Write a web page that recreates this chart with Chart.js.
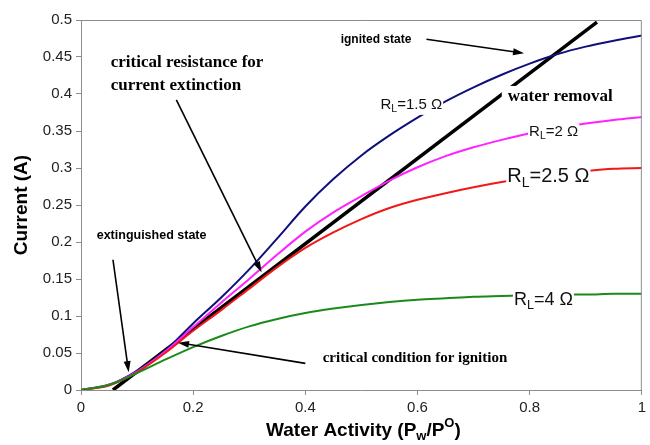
<!DOCTYPE html>
<html>
<head>
<meta charset="utf-8">
<script src="https://cdn.jsdelivr.net/npm/chart.js@4.4.0/dist/chart.umd.min.js"></script>
<style>
  html, body { margin: 0; padding: 0; background: #fff; }
  #wrap { width: 650px; height: 445px; }
</style>
</head>
<body>
<div id="wrap"><canvas id="chart"></canvas></div>
<script>
// water activity (x) and current (A)
const waterActivity = [0, 0.05, 0.1, 0.15, 0.2, 0.25, 0.3, 0.35, 0.4, 0.45, 0.5, 0.55, 0.6, 0.65, 0.7, 0.75, 0.8, 0.85, 0.9, 0.95, 1.0];
const currentR15 = [0, 0.007, 0.026, 0.053, 0.09, 0.125, 0.163, 0.205, 0.248, 0.285, 0.317, 0.344, 0.368, 0.39, 0.409, 0.426, 0.441, 0.454, 0.464, 0.472, 0.479];
const currentR2 = [0, 0.007, 0.025, 0.052, 0.085, 0.118, 0.15, 0.183, 0.214, 0.24, 0.262, 0.283, 0.301, 0.316, 0.328, 0.338, 0.347, 0.354, 0.36, 0.365, 0.369];
const currentR25 = [0, 0.006, 0.024, 0.05, 0.08, 0.108, 0.137, 0.166, 0.192, 0.213, 0.231, 0.246, 0.257, 0.266, 0.274, 0.281, 0.287, 0.292, 0.296, 0.299, 0.3];
const currentR4 = [0, 0.007, 0.023, 0.041, 0.058, 0.073, 0.086, 0.096, 0.104, 0.11, 0.115, 0.119, 0.122, 0.124, 0.126, 0.127, 0.128, 0.129, 0.129, 0.13, 0.13];

// water removal line
const removalX = [0.057, 0.92];
const removalY = [0, 0.497];

const xTicks = [0, 0.2, 0.4, 0.6, 0.8, 1];
const xTickLabels = ['0', '0.2', '0.4', '0.6', '0.8', '1'];
const yTicks = [0, 0.05, 0.1, 0.15, 0.2, 0.25, 0.3, 0.35, 0.4, 0.45, 0.5];
const yTickLabels = ['0', '0.05', '0.1', '0.15', '0.2', '0.25', '0.3', '0.35', '0.4', '0.45', '0.5'];

const SANS = 'Arial, "Liberation Sans", sans-serif';
const SERIF = '"Times New Roman", "Liberation Serif", serif';

// curve labels: [x, y, value text, font size]
const curveLabels = [
    [0.534, 0.385, '=1.5 Ω', 15],
    [0.799, 0.349, '=2 Ω', 15],
    [0.76, 0.288, '=2.5 Ω', 20],
    [0.772, 0.122, '=4 Ω', 18],
];

// annotation texts: [x, y, text, font]
const notes = [
    [0.463, 0.473, 'ignited state', 'bold 12px ' + SANS],
    [0.053, 0.443, 'critical resistance for', 'bold 17px ' + SERIF],
    [0.053, 0.411, 'current extinction', 'bold 17px ' + SERIF],
    [0.761, 0.396, 'water removal', 'bold 17px ' + SERIF],
    [0.028, 0.209, 'extinguished state', 'bold 12.5px ' + SANS],
    [0.431, 0.043, 'critical condition for ignition', 'bold 15px ' + SERIF],
];

// arrows: [x0, y0, x1 (head), y1 (head)]
const arrows = [
    [0.616, 0.474, 0.79, 0.455],
    [0.17, 0.392, 0.322, 0.159],
    [0.057, 0.176, 0.085, 0.024],
    [0.4, 0.036, 0.173, 0.064],
];

function pts(ys, xs = waterActivity) {
    return ys.map((y, i) => ({ x: xs[i], y }));
}

function drawArrow(ctx, x0, y0, x1, y1) {
    const ang = Math.atan2(y1 - y0, x1 - x0);
    const len = 11, w = 3.5;
    ctx.strokeStyle = '#000';
    ctx.lineWidth = 1.6;
    ctx.beginPath();
    ctx.moveTo(x0, y0);
    ctx.lineTo(x1 - Math.cos(ang) * len * 0.8, y1 - Math.sin(ang) * len * 0.8);
    ctx.stroke();
    ctx.fillStyle = '#000';
    ctx.beginPath();
    ctx.moveTo(x1, y1);
    ctx.lineTo(x1 - Math.cos(ang) * len - Math.sin(ang) * w, y1 - Math.sin(ang) * len + Math.cos(ang) * w);
    ctx.lineTo(x1 - Math.cos(ang) * len + Math.sin(ang) * w, y1 - Math.sin(ang) * len - Math.cos(ang) * w);
    ctx.closePath();
    ctx.fill();
}

const annotate = {
    id: 'annotate',
    afterDatasetsDraw(chart) {
        const { ctx, chartArea: a, scales: { x, y } } = chart;
        ctx.save();
        ctx.textBaseline = 'middle';
        ctx.textAlign = 'left';

        // box border top/right
        ctx.strokeStyle = '#8c8c8c';
        ctx.lineWidth = 1;
        ctx.beginPath();
        ctx.moveTo(a.left, a.top + 0.5);
        ctx.lineTo(a.right - 0.5, a.top + 0.5);
        ctx.lineTo(a.right - 0.5, a.bottom);
        ctx.stroke();

        // curve labels R_L=...
        curveLabels.forEach(([dx, dy, txt, size]) => {
            const px = x.getPixelForValue(dx), py = y.getPixelForValue(dy);
            ctx.font = size + 'px ' + SANS;
            const wR = ctx.measureText('R').width;
            ctx.font = (size * 0.7) + 'px ' + SANS;
            const wL = ctx.measureText('L').width;
            ctx.font = size + 'px ' + SANS;
            const wT = ctx.measureText(txt).width;
            ctx.fillStyle = '#fff';
            ctx.fillRect(px - 1, py - size * 0.55, wR + wL + wT + 2, size * 1.2);
            ctx.fillStyle = '#111';
            ctx.fillText('R', px, py);
            ctx.font = (size * 0.7) + 'px ' + SANS;
            ctx.fillText('L', px + wR, py + size * 0.3);
            ctx.font = size + 'px ' + SANS;
            ctx.fillText(txt, px + wR + wL, py);
        });

        // annotation texts
        notes.forEach(([dx, dy, txt, font]) => {
            const px = x.getPixelForValue(dx), py = y.getPixelForValue(dy);
            ctx.font = font;
            const w = ctx.measureText(txt).width;
            ctx.fillStyle = '#fff';
            ctx.fillRect(px - 6, py - 11, w + 8, 21);
            ctx.fillStyle = '#000';
            ctx.fillText(txt, px, py);
        });

        arrows.forEach(([x0, y0, x1, y1]) => {
            drawArrow(ctx, x.getPixelForValue(x0), y.getPixelForValue(y0),
                x.getPixelForValue(x1), y.getPixelForValue(y1));
        });

        // axis titles
        ctx.fillStyle = '#000';
        ctx.textAlign = 'left';
        const big = 'bold 19px ' + SANS, small = 'bold 13px ' + SANS;
        const parts = [['Water Activity (P', big, 0], ['w', small, 5], ['/P', big, 0], ['O', small, -8], [')', big, 0]];
        let total = 0;
        parts.forEach(([t, f]) => { ctx.font = f; total += ctx.measureText(t).width; });
        let cx = (a.left + a.right) / 2 - total / 2 + 2;
        const ty = 431;
        parts.forEach(([t, f, off]) => {
            ctx.font = f;
            ctx.fillText(t, cx, ty + off);
            cx += ctx.measureText(t).width;
        });

        ctx.translate(22, (a.top + a.bottom) / 2);
        ctx.rotate(-Math.PI / 2);
        ctx.textAlign = 'center';
        ctx.font = big;
        ctx.fillText('Current (A)', 0, 0);
        ctx.restore();
    }
};

const lineStyle = { fill: false, pointRadius: 0, cubicInterpolationMode: 'monotone', borderWidth: 2 };

new Chart(document.getElementById('chart'), {
    type: 'line',
    data: {
        datasets: [
            { label: 'RL=4', data: pts(currentR4), borderColor: '#1b8a1b', ...lineStyle },
            { label: 'RL=2.5', data: pts(currentR25), borderColor: '#f01818', ...lineStyle },
            { label: 'RL=2', data: pts(currentR2), borderColor: '#ff22ff', ...lineStyle },
            { label: 'RL=1.5', data: pts(currentR15), borderColor: '#10107a', ...lineStyle },
            { label: 'water removal', data: pts(removalY, removalX), borderColor: '#000', fill: false, pointRadius: 0, tension: 0, borderWidth: 3.5 },
        ],
    },
    options: {
        responsive: true, maintainAspectRatio: false, animation: false,
        layout: { padding: { top: 20, right: 0, left: 0, bottom: 0 } },
        plugins: { legend: { display: false }, tooltip: { enabled: false } },
        scales: {
            x: {
                type: 'linear', min: 0, max: 1,
                afterBuildTicks: s => { s.ticks = xTicks.map(v => ({ value: v })); },
                afterFit: s => { s.height = 55; },
                ticks: {
                    color: '#222', font: { family: SANS, size: 15 }, padding: 4, maxRotation: 0,
                    callback: (v, i) => xTickLabels[i],
                },
                grid: { drawOnChartArea: false, drawTicks: true, tickLength: 5, color: '#8c8c8c' },
                border: { color: '#8c8c8c', width: 1 },
            },
            y: {
                min: 0, max: 0.5,
                afterBuildTicks: s => { s.ticks = yTicks.map(v => ({ value: v })); },
                afterFit: s => { s.width = 81; },
                ticks: {
                    color: '#222', font: { family: SANS, size: 15 }, padding: 4,
                    callback: (v, i) => yTickLabels[i],
                },
                grid: { drawOnChartArea: false, drawTicks: true, tickLength: 5, color: '#8c8c8c' },
                border: { color: '#8c8c8c', width: 1 },
            },
        },
    },
    plugins: [annotate],
});
</script>
</body>
</html>
